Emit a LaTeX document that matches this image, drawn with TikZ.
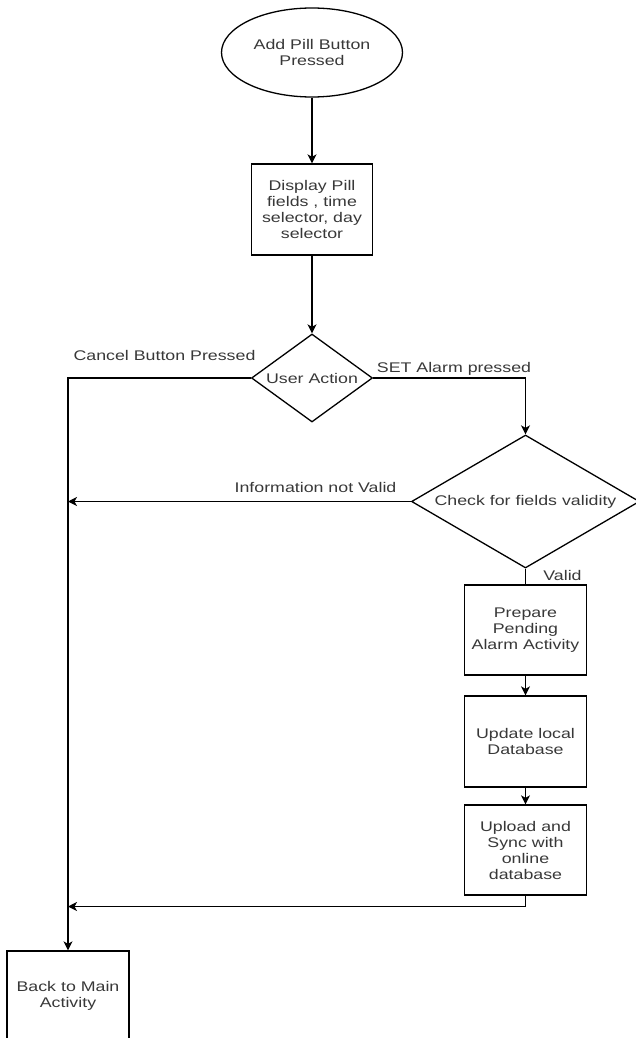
\documentclass[tikz,border=0pt]{standalone}
\usepackage{fontspec}
\setmainfont{Liberation Sans}[FakeStretch=1.27]
\usetikzlibrary{shapes.geometric,arrows.meta}

\begin{document}
\begin{tikzpicture}[x=1pt, y=-1pt, line width=1.3pt,
      every node/.style = {align=center, text=black!78,
        font=\fontsize{14}{16}\selectfont},
      box/.style = {shape=rectangle, draw=black, inner sep=0pt,
        minimum width=122pt, minimum height=90pt},
      choice/.style = {shape=diamond, draw=black, inner sep=0pt},
      lbl/.style = {anchor=base, inner sep=0pt},
      arr/.style = {-{Stealth[length=9pt,width=9pt,inset=2.5pt]}}]
  \useasboundingbox (0,0) rectangle (635,1038);
  % left column
  \node[shape=ellipse, draw=black, inner sep=0pt,
        minimum width=181pt, minimum height=89pt] (start) at (312,52.5)
        {Add Pill Button\\Pressed};
  \node[box, minimum width=121pt, minimum height=91pt] (disp) at (312,209.5)
        {Display Pill\\fields , time\\selector, day\\selector};
  \node[choice, aspect=1.375, minimum width=121pt, minimum height=88pt] (user)
        at (312,378) {User Action};
  % right column
  \node[choice, aspect=1.71, minimum width=228pt, minimum height=133pt] (check)
        at (525.5,501.5) {Check for fields validity};
  \node[box] (prep) at (525.5,630) {Prepare\\Pending\\Alarm Activity};
  \node[box, minimum height=91pt] (update) at (525.5,741.5) {Update local\\Database};
  \node[box] (upload) at (525.5,850) {Upload and\\Sync with\\online\\database};
  \node[box, minimum height=89pt] (back) at (68,995.5) {Back to Main\\Activity};
  \coordinate (merge) at (68,906.5);
  % labels
  \node[lbl] (lcancel) at (164.5,360) {Cancel Button Pressed};
  \node[lbl] (lset) at (454,372) {SET Alarm pressed};
  \node[lbl] (linvalid) at (315.5,492) {Information not Valid};
  \node[lbl] (lvalid) at (562.5,580) {Valid};
  % connectors
  \draw[arr] (start) -- (disp);
  \draw[arr] (disp) -- (user);
  \draw[arr] (user.west) -| (back.north);
  \draw[arr] (user.east) -| (check.north);
  \draw[arr] (check.west) -- (check.west -| back.north);
  \draw (check.south) -- (prep.north);
  \draw[arr] (prep) -- (update);
  \draw[arr] (update) -- (upload);
  \draw[arr] (upload.south) |- (merge);
\end{tikzpicture}
\end{document}
